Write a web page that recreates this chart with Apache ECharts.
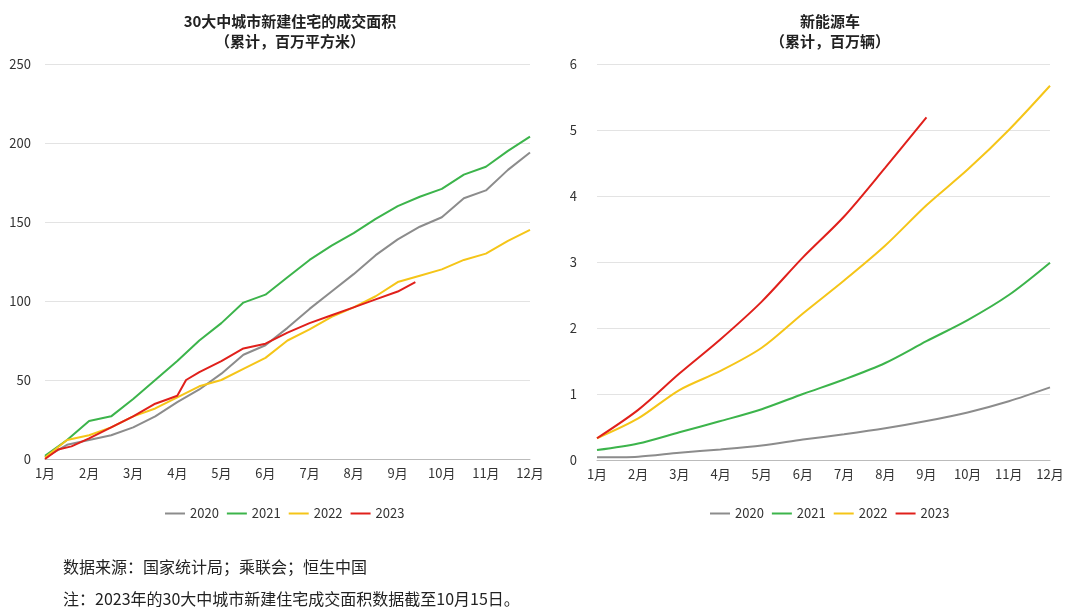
<!DOCTYPE html>
<html><head><meta charset="utf-8">
<script src="https://cdn.jsdelivr.net/npm/echarts@6/dist/echarts.min.js"></script>
<style>html,body{margin:0;padding:0;background:#fff}#c{width:1080px;height:612px}</style>
</head><body><div id="c"></div>
<script>
const months = ['1月','2月','3月','4月','5月','6月','7月','8月','9月','10月','11月','12月'];
const leftX = [1,1.5,2,2.5,3,3.5,4,4.5,5,5.5,6,6.5,7,7.5,8,8.5,9,9.5,10,10.5,11,11.5,12];
const left2020 = [1,9,12,15,20,27,36,44,54,66,72,83,95,106,117,129,139,147,153,165,170,183,194];
const left2021 = [2,12,24,27,38,50,62,75,86,99,104,115,126,135,143,152,160,166,171,180,185,195,204];
const left2022 = [1,12,15,20,27,32,39,46,50,57,64,75,82,90,96,103,112,116,120,126,130,138,145];
const left2023 = [[1,0],[1.3,6],[1.6,8],[2,13],[2.5,20],[3,27],[3.5,35],[3.8,38],[4,40],[4.2,50],[4.5,55],[5,62],[5.5,70],[6,73],[6.5,80],[7,86],[7.5,91],[8,96],[8.5,101],[9,106],[9.2,109],[9.4,112]];
const nev2020 = [0.04,0.05,0.11,0.16,0.22,0.31,0.39,0.48,0.59,0.72,0.89,1.1];
const nev2021 = [0.15,0.25,0.42,0.59,0.77,1.0,1.22,1.47,1.8,2.12,2.5,2.99];
const nev2022 = [0.33,0.63,1.06,1.35,1.7,2.22,2.72,3.25,3.86,4.4,5.0,5.67];
const nev2023 = [0.33,0.76,1.31,1.83,2.4,3.07,3.69,4.43,5.19];
const names = ['2020','2021','2022','2023'];
const colors = ['#8c8c8c','#3cb44b','#f5c518','#e0201b'];
const font = '"Noto Sans CJK SC","Noto Sans",sans-serif';
const pair = a => a.map((v,i)=>[leftX[i],v]);
const ls = (i)=>({type:'line',name:names[i],showSymbol:false,lineStyle:{width:2,color:colors[i]},itemStyle:{color:colors[i]}});
const chart = echarts.init(document.getElementById('c'));
chart.setOption({
  textStyle:{fontFamily:font},
  title:[
    {text:'30大中城市新建住宅的成交面积\n（累计，百万平方米）',left:285,top:6,textAlign:'center',textStyle:{fontSize:15,fontWeight:'bold',color:'#222',lineHeight:20}},
    {text:'新能源车\n（累计，百万辆）',left:825,top:6,textAlign:'center',textStyle:{fontSize:15,fontWeight:'bold',color:'#222',lineHeight:20}},
    {text:'数据来源：国家统计局；乘联会；恒生中国',left:58,top:554,textStyle:{fontSize:16,fontWeight:'normal',color:'#222'}},
    {text:'注：2023年的30大中城市新建住宅成交面积数据截至10月15日。',left:58,top:586,textStyle:{fontSize:16,fontWeight:'normal',color:'#222'}}
  ],
  legend:[
    {data:names,left:160,top:502,itemWidth:20,itemHeight:2,icon:'rect',textStyle:{fontSize:13,color:'#333'}},
    {data:names,left:705,top:502,itemWidth:20,itemHeight:2,icon:'rect',textStyle:{fontSize:13,color:'#333'}}
  ],
  grid:[{left:45,top:64,width:485,height:395},{left:597,top:64,width:453,height:396}],
  xAxis:[
    {gridIndex:0,type:'value',min:1,max:12,interval:1,axisLabel:{formatter:'{value}月',color:'#333',fontSize:13},
     axisLine:{lineStyle:{color:'#bbb'}},axisTick:{show:false},splitLine:{show:false}},
    {gridIndex:1,type:'category',data:months,boundaryGap:false,axisLabel:{color:'#333',fontSize:13},
     axisLine:{lineStyle:{color:'#bbb'}},axisTick:{show:false}}
  ],
  yAxis:[
    {gridIndex:0,type:'value',min:0,max:250,interval:50,axisLabel:{color:'#333',fontSize:13,margin:14},
     axisTick:{show:false},splitLine:{lineStyle:{color:'#e3e3e3'}},axisLine:{show:false}},
    {gridIndex:1,type:'value',min:0,max:6,interval:1,axisLabel:{color:'#333',fontSize:13,margin:20},
     axisTick:{show:false},splitLine:{lineStyle:{color:'#e3e3e3'}},axisLine:{show:false}}
  ],
  series:[
    Object.assign(ls(0),{xAxisIndex:0,yAxisIndex:0,data:pair(left2020)}),
    Object.assign(ls(1),{xAxisIndex:0,yAxisIndex:0,data:pair(left2021)}),
    Object.assign(ls(2),{xAxisIndex:0,yAxisIndex:0,data:pair(left2022)}),
    Object.assign(ls(3),{xAxisIndex:0,yAxisIndex:0,data:left2023}),
    Object.assign(ls(0),{xAxisIndex:1,yAxisIndex:1,data:nev2020,smooth:0.3}),
    Object.assign(ls(1),{xAxisIndex:1,yAxisIndex:1,data:nev2021,smooth:0.3}),
    Object.assign(ls(2),{xAxisIndex:1,yAxisIndex:1,data:nev2022,smooth:0.3}),
    Object.assign(ls(3),{xAxisIndex:1,yAxisIndex:1,data:nev2023,smooth:0.3})
  ]
});
</script></body></html>
